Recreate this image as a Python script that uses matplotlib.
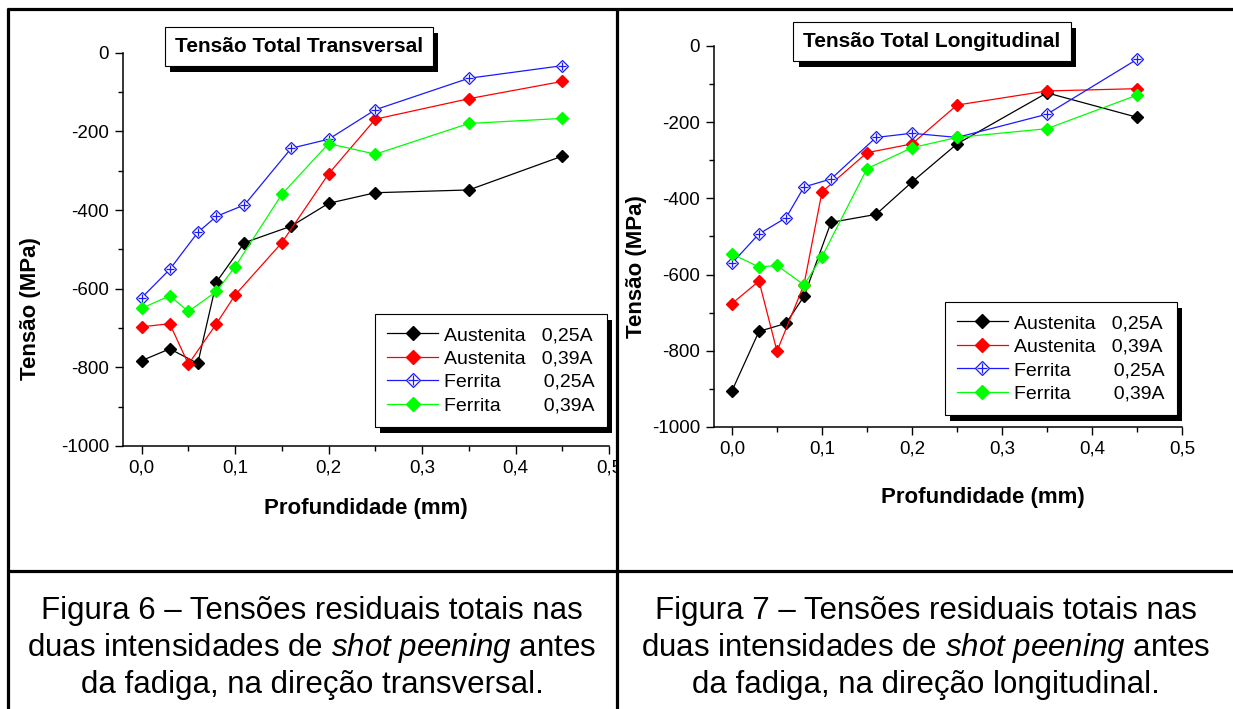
import numpy as np
import matplotlib
matplotlib.use("Agg")
import matplotlib.pyplot as plt
import matplotlib.patheffects as pe
from matplotlib.ticker import MultipleLocator, FuncFormatter
from matplotlib.patches import Rectangle

plt.rcParams['font.family'] = ['Liberation Sans', 'DejaVu Sans']
plt.rcParams['axes.unicode_minus'] = False
plt.rcParams['mathtext.fontset'] = 'custom'
plt.rcParams['mathtext.rm'] = 'Liberation Sans'
plt.rcParams['mathtext.it'] = 'Liberation Sans:italic'

# profundidade (mm)
depth_a = [0.0, 0.03, 0.06, 0.08, 0.11, 0.16, 0.20, 0.25, 0.35, 0.45]
depth_b = [0.0, 0.03, 0.05, 0.08, 0.10, 0.15, 0.20, 0.25, 0.35, 0.45]

# Tensao total transversal (MPa)
trans_aus25 = [-783, -753, -790, -583, -483, -441, -383, -356, -349, -263]
trans_aus39 = [-697, -689, -792, -689, -616, -483, -308, -169, -117, -73]
trans_fer25 = [-623, -551, -457, -416, -387, -243, -220, -145, -65, -33]
trans_fer39 = [-650, -618, -658, -607, -544, -360, -231, -258, -180, -167]

# Tensao total longitudinal (MPa)
long_aus25 = [-905, -749, -728, -657, -463, -442, -357, -257, -123, -187]
long_aus39 = [-676, -617, -801, -626, -383, -280, -257, -155, -118, -112]
long_fer25 = [-570, -493, -451, -370, -349, -240, -229, -240, -179, -35]
long_fer39 = [-546, -580, -576, -627, -553, -322, -267, -240, -217, -129]

labels = ["Austenita   0,25A", "Austenita   0,39A",
          "Ferrita        0,25A", "Ferrita        0,39A"]

W, H = 1233, 709
fig = plt.figure(figsize=(W / 100, H / 100), dpi=100)
fig.patch.set_facecolor('white')

shadow = [pe.SimplePatchShadow(offset=(3.8, -4.3), shadow_rgbFace='black', alpha=1), pe.Normal()]


def px_axes(l, r, t, b):
    return fig.add_axes([l / W, 1 - b / H, (r - l) / W, (b - t) / H])


def panel(ax, aus25, aus39, fer25, fer39, title, tpos, lpos, ylab_pos, xlab_pos):
    ms = 6.5
    l1, = ax.plot(depth_a, aus25, color='black', lw=0.9, marker='D', ms=ms, mfc='black', mec='black')
    l2, = ax.plot(depth_b, aus39, color='#ff0000', lw=0.9, marker='D', ms=ms, mfc='#ff0000', mec='#ff0000')
    l3, = ax.plot(depth_a, fer25, color='#1a1aff', lw=0.9, marker='D', ms=ms, mfc='white', mec='#1a1aff', mew=0.9)
    l3b, = ax.plot(depth_a, fer25, ls='none', marker='+', ms=ms * 0.95, mec='#1a1aff', mew=0.9)
    l4, = ax.plot(depth_b, fer39, color='#00ff00', lw=0.9, marker='D', ms=ms, mfc='#00ff00', mec='#00ff00')

    ax.set_xlim(-0.02, 0.5)
    ax.set_ylim(-1000, 0)
    ax.spines['top'].set_visible(False)
    ax.spines['right'].set_visible(False)
    ax.spines['left'].set_linewidth(1.1)
    ax.spines['bottom'].set_linewidth(1.1)
    ax.xaxis.set_major_locator(MultipleLocator(0.1))
    ax.xaxis.set_minor_locator(MultipleLocator(0.05))
    ax.yaxis.set_major_locator(MultipleLocator(200))
    ax.yaxis.set_minor_locator(MultipleLocator(100))
    ax.xaxis.set_major_formatter(FuncFormatter(lambda v, p: f"{v:.1f}".replace('.', ',')))
    ax.yaxis.set_major_formatter(FuncFormatter(lambda v, p: f"{v:.0f}"))
    ax.tick_params(which='major', direction='out', length=6, width=1, labelsize=13.5, pad=4)
    ax.tick_params(which='minor', direction='out', length=3.5, width=1)

    ax.set_xlabel("Profundidade (mm)", fontsize=16, fontweight='bold')
    ax.set_ylabel("Tensão (MPa)", fontsize=16, fontweight='bold')
    ax.xaxis.set_label_coords(*xlab_pos)
    ax.yaxis.set_label_coords(*ylab_pos)

    t = ax.text(tpos[0], tpos[1], title, transform=ax.transAxes, ha='center', va='center',
                fontsize=15, fontweight='bold', zorder=10,
                bbox=dict(boxstyle='square,pad=0.48', fc='white', ec='black', lw=0.8))
    t.get_bbox_patch().set_path_effects(shadow)
    t.set_clip_on(False)

    leg = ax.legend([l1, l2, (l3, l3b), l4], labels, loc='upper right', bbox_to_anchor=lpos,
                    borderaxespad=0, fontsize=14, frameon=True, fancybox=False, framealpha=1,
                    edgecolor='black', handlelength=2.6, handletextpad=0.3, borderpad=0.65,
                    labelspacing=0.3, markerscale=1.15)
    leg.get_frame().set_linewidth(0.8)
    leg.get_frame().set_path_effects(shadow)


ax1 = px_axes(123, 609, 52.7, 446)
panel(ax1, trans_aus25, trans_aus39, trans_fer25, trans_fer39, "Tensão Total Transversal",
      (0.362, 1.0145), (0.996, 0.336), (-0.169, 0.35), (0.5, -0.132))

ax2 = px_axes(714, 1182, 46, 427)
panel(ax2, long_aus25, long_aus39, long_fer25, long_fer39, "Tensão Total Longitudinal",
      (0.466, 1.0105), (0.989, 0.328), (-0.143, 0.42), (0.575, -0.157))

# table frame and captions
ov = fig.add_axes([0, 0, 1, 1], zorder=20)
ov.set_xlim(0, W)
ov.set_ylim(H, 0)
ov.axis('off')
ov.add_patch(Rectangle((618.5, 450), 20, 30, fc='white', ec='none'))
lw = 2.3
ov.plot([7, W], [8.5, 8.5], color='black', lw=lw, solid_capstyle='butt')
ov.plot([7.5, 7.5], [8, H], color='black', lw=lw, solid_capstyle='butt')
ov.plot([617, 617], [8, H], color='black', lw=lw, solid_capstyle='butt')
ov.plot([7, W], [571, 571], color='black', lw=lw, solid_capstyle='butt')

cap_left = ["Figura 6 – Tensões residuais totais nas",
            r"duas intensidades de $\mathit{shot\ peening}$ antes",
            "da fadiga, na direção transversal."]
cap_right = ["Figura 7 – Tensões residuais totais nas",
             r"duas intensidades de $\mathit{shot\ peening}$ antes",
             "da fadiga, na direção longitudinal."]
for i, (a, b) in enumerate(zip(cap_left, cap_right)):
    yb = 619 + 37 * i
    ov.text(312, yb, a, ha='center', va='baseline', fontsize=22.5)
    ov.text(926, yb, b, ha='center', va='baseline', fontsize=22.5)

fig.savefig("out.png", dpi=100)
